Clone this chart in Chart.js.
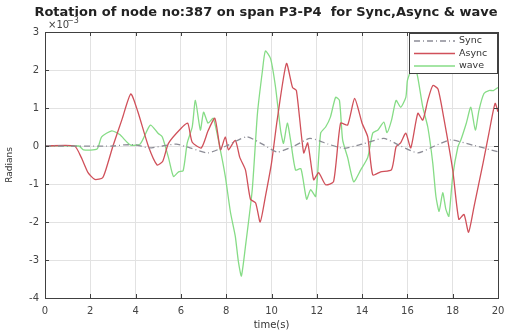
<!DOCTYPE html>
<html>
<head>
<meta charset="utf-8">
<script src="https://cdn.jsdelivr.net/npm/chart.js@4.4.1/dist/chart.umd.min.js"></script>
<style>
  html, body { margin: 0; padding: 0; background: #fff; overflow: hidden; }
  canvas { display: block; }
</style>
</head>
<body>
<canvas id="grafico" width="505" height="334"></canvas>
<script>
// Rotación del nodo 387 (x1e-3 rad) frente al tiempo
const titulo = 'Rotation of node no:387 on span P3-P4  for Sync,Async & wave';
const etiquetas = ['Sync', 'Async', 'wave'];
const ticksX = [0, 2, 4, 6, 8, 10, 12, 14, 16, 18, 20];
const ticksY = [-4, -3, -2, -1, 0, 1, 2, 3];

const syncT = [0, 3, 3.5, 4, 4.6, 5.2, 5.8, 6.4, 7.2, 8, 8.9, 9.6, 10.25, 11, 11.7, 12.5, 13.2, 14, 14.96, 15.7, 16.46, 17.2, 17.9, 18.9, 20];
const syncV = [0, 0, 0.03, 0.03, -0.05, 0, 0.05, -0.05, -0.18, 0, 0.24, 0.05, -0.16, 0, 0.2, 0.05, -0.06, 0.05, 0.2, 0, -0.18, 0, 0.16, 0.02, -0.15];

const asyncT = [0, 1.3, 1.6, 1.9, 2.2, 2.55, 2.8, 3, 3.4, 3.79, 4.1, 4.56, 4.95, 5.2, 5.45, 6, 6.3, 6.5, 6.9, 7.2, 7.5, 7.75, 7.96, 8.1, 8.4, 8.6, 8.85, 9.07, 9.3, 9.5, 9.73, 10, 10.25, 10.66, 10.93, 11.1, 11.42, 11.6, 11.86, 12.08, 12.39, 12.74, 13.05, 13.36, 13.67, 14, 14.25, 14.47, 14.82, 15.3, 15.5, 15.7, 15.93, 16.15, 16.46, 16.68, 16.9, 17.12, 17.35, 17.6, 18, 18.27, 18.5, 18.7, 18.94, 19.34, 19.6, 19.87, 20];
const asyncV = [0, 0, -0.3, -0.7, -0.88, -0.83, -0.4, 0, 0.7, 1.37, 0.9, 0, -0.5, -0.4, 0.07, 0.46, 0.6, 0.1, -0.05, 0.4, 0.73, -0.1, 0.24, -0.1, 0.15, -0.3, -0.63, -1.4, -1.5, -2.0, -1.33, -0.45, 0.68, 2.17, 1.54, 1.46, -0.18, 0.08, -0.89, -0.7, -1.02, -0.94, 0.6, 0.55, 1.25, 0.6, 0.24, -0.76, -0.68, -0.62, -0.02, 0.08, 0.34, -0.05, 0.86, 0.68, 1.2, 1.59, 1.5, 0.76, -0.63, -1.93, -1.8, -2.27, -1.6, -0.45, 0.34, 1.12, 0.9];

const waveT = [0, 1.5, 1.7, 2.3, 2.5, 2.95, 3.3, 3.76, 4.2, 4.65, 5, 5.18, 5.45, 5.67, 5.9, 6.1, 6.28, 6.5, 6.64, 6.86, 7, 7.2, 7.43, 7.74, 7.96, 8.19, 8.4, 8.54, 8.67, 8.85, 9.15, 9.38, 9.6, 9.73, 9.96, 10.18, 10.4, 10.53, 10.7, 10.84, 11.06, 11.3, 11.55, 11.73, 11.95, 12.17, 12.39, 12.6, 12.83, 13, 13.14, 13.36, 13.63, 13.94, 14.25, 14.47, 14.7, 14.96, 15.1, 15.3, 15.5, 15.7, 15.93, 16, 16.15, 16.3, 16.46, 16.68, 16.9, 17.12, 17.26, 17.4, 17.56, 17.7, 17.83, 18, 18.23, 18.36, 18.6, 18.8, 19, 19.16, 19.38, 19.6, 19.8, 20];
const waveV = [0, 0, -0.1, -0.08, 0.24, 0.4, 0.3, 0.03, 0.05, 0.55, 0.33, 0.24, -0.3, -0.8, -0.68, -0.65, 0.08, 0.5, 1.2, 0.42, 0.89, 0.6, 0.73, -0.1, -0.8, -1.75, -2.37, -3.05, -3.42, -2.64, -1.15, 0.86, 1.98, 2.5, 2.3, 1.54, 0.42, 0.07, 0.6, 0.16, -0.63, -0.6, -1.4, -1.15, -1.33, 0.34, 0.5, 0.76, 1.28, 1.2, 0.16, -0.3, -0.94, -0.63, -0.3, 0.34, 0.42, 0.63, 0.35, 0.68, 1.2, 1.02, 1.28, 1.72, 1.98, 2.17, 1.8, 1.02, 0.5, -0.45, -1.33, -1.72, -1.23, -1.67, -1.85, -0.8, -0.02, 0.16, 0.6, 1.02, 0.42, 0.94, 1.38, 1.46, 1.46, 1.54];

const colores = ['#8c8c96', '#d0505a', '#86dc86'];
const trazos = [[6, 3, 1, 3], [], []];

function puntos(t, v) {
  return t.map((x, i) => ({ x: x, y: v[i] }));
}

const fuente = "'DejaVu Sans', Arial, sans-serif";

// Marco, marcas interiores, leyenda, título y exponente estilo MATLAB
const decoracion = {
  id: 'decoracion',
  afterDraw(chart) {
    const { ctx, chartArea: a, scales } = chart;
    ctx.save();
    ctx.strokeStyle = '#404040';
    ctx.lineWidth = 1;
    ctx.strokeRect(a.left + 0.5, a.top + 0.5, a.right - a.left, a.bottom - a.top);

    ctx.beginPath();
    ticksX.forEach(v => {
      const px = Math.round(scales.x.getPixelForValue(v)) + 0.5;
      ctx.moveTo(px, a.bottom); ctx.lineTo(px, a.bottom - 4);
      ctx.moveTo(px, a.top); ctx.lineTo(px, a.top + 4);
    });
    ticksY.forEach(v => {
      const py = Math.round(scales.y.getPixelForValue(v)) + 0.5;
      ctx.moveTo(a.left, py); ctx.lineTo(a.left + 4, py);
      ctx.moveTo(a.right, py); ctx.lineTo(a.right - 4, py);
    });
    ctx.stroke();

    // leyenda
    const lx = a.right - 89, ly = a.top + 1;
    ctx.fillStyle = '#fff';
    ctx.fillRect(lx, ly, 89, 41);
    ctx.strokeStyle = '#404040';
    ctx.strokeRect(lx + 0.5, ly + 0.5, 88, 40);
    chart.data.datasets.forEach((ds, i) => {
      const y = ly + 8 + i * 12.5;
      ctx.beginPath();
      ctx.strokeStyle = ds.borderColor;
      ctx.lineWidth = 1.3;
      ctx.setLineDash(ds.borderDash);
      ctx.moveTo(lx + 5, y); ctx.lineTo(lx + 46, y);
      ctx.stroke();
      ctx.setLineDash([]);
      ctx.fillStyle = '#333';
      ctx.font = '9.5px ' + fuente;
      ctx.textBaseline = 'middle';
      ctx.textAlign = 'left';
      ctx.fillText(ds.label, lx + 50, y);
    });

    // título
    ctx.fillStyle = '#222';
    ctx.font = 'bold 13px ' + fuente;
    ctx.textAlign = 'center';
    ctx.textBaseline = 'middle';
    ctx.fillText(titulo, 266, 13);

    // exponente del eje y
    ctx.font = '10px ' + fuente;
    ctx.fillStyle = '#444';
    ctx.textAlign = 'left';
    ctx.fillText('\u00d710', a.left + 3, a.top - 7);
    ctx.font = '8px ' + fuente;
    ctx.fillText('\u22123', a.left + 22, a.top - 11);
    ctx.restore();
  }
};

new Chart(document.getElementById('grafico'), {
  type: 'line',
  data: {
    datasets: [
      { label: etiquetas[0], data: puntos(syncT, syncV) },
      { label: etiquetas[1], data: puntos(asyncT, asyncV) },
      { label: etiquetas[2], data: puntos(waveT, waveV) }
    ].map((ds, i) => Object.assign(ds, {
      borderColor: colores[i],
      borderDash: trazos[i],
      borderWidth: 1.3,
      pointRadius: 0,
      tension: 0.2,
      fill: false
    }))
  },
  options: {
    responsive: false,
    animation: false,
    layout: { padding: { top: 32, right: 7, left: 0, bottom: 0 } },
    plugins: { legend: { display: false }, tooltip: { enabled: false } },
    scales: {
      x: {
        type: 'linear', min: 0, max: 20,
        afterBuildTicks: s => { s.ticks = ticksX.map(v => ({ value: v })); },
        afterFit: s => { s.height = 36; s.paddingLeft = 0; s.paddingRight = 0; },
        grid: { color: '#e2e2e2', drawTicks: false },
        border: { display: false },
        ticks: { padding: 7, color: '#444', font: { family: fuente, size: 10 } },
        title: { display: true, text: 'time(s)', color: '#333', padding: 3, font: { family: fuente, size: 10 } }
      },
      y: {
        min: -4, max: 3,
        afterBuildTicks: s => { s.ticks = ticksY.map(v => ({ value: v })); },
        afterFit: s => { s.width = 45; s.paddingTop = 0; s.paddingBottom = 0; },
        grid: { color: '#e2e2e2', drawTicks: false },
        border: { display: false },
        ticks: { padding: 6, color: '#444', font: { family: fuente, size: 10 } },
        title: { display: true, text: 'Radians', color: '#333', padding: 4, font: { family: fuente, size: 9 } }
      }
    }
  },
  plugins: [decoracion]
});
</script>
</body>
</html>
